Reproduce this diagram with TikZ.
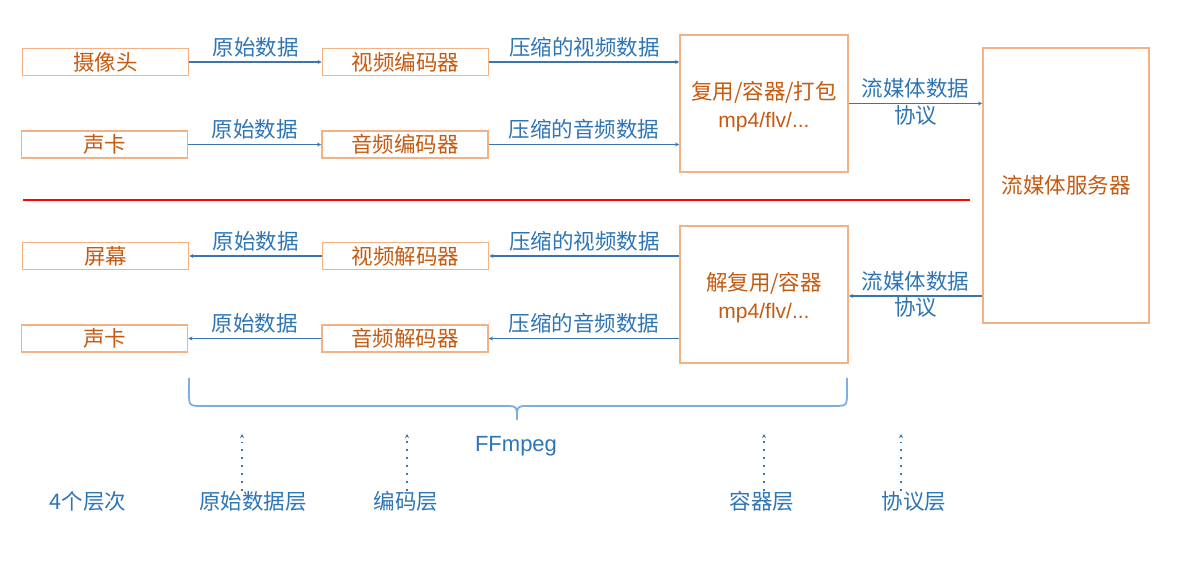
\documentclass[tikz,border=0pt]{standalone}
\usepackage{fontspec}
\setmainfont{Liberation Sans}
\newfontfamily\cjk{Noto Sans CJK SC}
\usetikzlibrary{arrows.meta}
\definecolor{boxline}{HTML}{F4B183}
\definecolor{boxtext}{HTML}{C55A11}
\definecolor{arr}{HTML}{3A75AE}
\definecolor{labtext}{HTML}{2E75B6}
\definecolor{bracecol}{HTML}{7EADE0}
\tikzset{
  box/.style={draw=boxline, line width=1.8pt, inner sep=0pt, text=boxtext, font=\cjk\fontsize{21.5}{26}\selectfont, align=center},
  smallbox/.style={box, minimum width=166pt, minimum height=27pt},
  boxlabel/.style={text=boxtext, font=\cjk\fontsize{21.5}{26}\selectfont, align=center, inner sep=0pt},
  flow/.style={draw=arr, line width=1.6pt, -{Stealth[length=4pt,width=4pt]}},
  lab/.style={text=labtext, font=\cjk\fontsize{21.5}{26}\selectfont, inner sep=4pt},
  dotarrow/.style={draw=arr, line width=1.9pt, dash pattern=on 1.9pt off 6pt, -{Stealth[length=4pt,width=4pt]}},
  layer/.style={text=labtext, font=\cjk\fontsize{21.5}{26}\selectfont, inner sep=0pt},
}
\begin{document}
\begin{tikzpicture}[x=1pt,y=-1pt]
\useasboundingbox (0,0) rectangle (1184,569);
% top half
\node[smallbox] (cam) at (105.5,62) {摄像头};
\node[smallbox] (venc) at (405.5,62) {视频编码器};
\node[smallbox] (snd1) at (104.5,144.5) {声卡};
\node[smallbox] (aenc) at (405,144.5) {音频编码器};
\node[box, minimum width=168pt, minimum height=137pt] (mux) at (764,103.5) {};
\node[boxlabel] (muxtext) at (764,106.5) {复用/容器/打包\\[1.5pt]{\fontspec{Liberation Sans}\fontsize{21}{26}\selectfont mp4/flv/...}};
\node[box, minimum width=166pt, minimum height=275pt] (srv) at (1066,185.5) {流媒体服务器};
% bottom half
\node[smallbox] (scr) at (105.5,256) {屏幕};
\node[smallbox] (vdec) at (405.5,256) {视频解码器};
\node[smallbox] (snd2) at (104.5,338.5) {声卡};
\node[smallbox] (adec) at (405,338.5) {音频解码器};
\node[box, minimum width=168pt, minimum height=137pt] (demux) at (764,294.5) {};
\node[boxlabel] (demuxtext) at (764,297.5) {解复用/容器\\[1.5pt]{\fontspec{Liberation Sans}\fontsize{21}{26}\selectfont mp4/flv/...}};
% separator
\draw[red, line width=2.4pt] (23,200) -- (970,200);
% top arrows
\draw[flow] (cam) -- node[lab, above] {原始数据} (venc);
\draw[flow] (snd1) -- node[lab, above] {原始数据} (aenc);
\draw[flow] (venc.east) -- node[lab, above] {压缩的视频数据} (venc.east -| mux.west);
\draw[flow] (aenc.east) -- node[lab, above] {压缩的音频数据} (aenc.east -| mux.west);
\draw[flow] (mux.east) -- node[lab, above] {流媒体数据} node[lab, below, inner sep=1pt] {协议} (mux.east -| srv.west);
% bottom arrows
\draw[flow] (vdec) -- node[lab, above] {原始数据} (scr);
\draw[flow] (adec) -- node[lab, above] {原始数据} (snd2);
\draw[flow] (vdec.east -| demux.west) -- node[lab, above] {压缩的视频数据} (vdec.east);
\draw[flow] (adec.east -| demux.west) -- node[lab, above] {压缩的音频数据} (adec.east);
\draw[flow] (srv.west |- 0,296) -- node[lab, above] {流媒体数据} node[lab, below, inner sep=1pt] {协议} (demux.east |- 0,296);
% brace
\draw[bracecol, line width=1.8pt] (189,378) -- (189,392) .. controls (189,406) .. (203,406) -- (505,406) .. controls (517,406) .. (517,420) .. controls (517,406) .. (529,406) -- (833,406) .. controls (847,406) .. (847,392) -- (847,378);
\node[text=labtext, font=\fontsize{22}{26}\selectfont, inner sep=0pt] (ff) at (516,446) {FFmpeg};
% layers
\node[layer] (l0) at (88,501) {4个层次};
\node[layer] (l1) at (253,501) {原始数据层};
\node[layer] (l2) at (406,501) {编码层};
\node[layer] (l3) at (762,501) {容器层};
\node[layer] (l4) at (914,501) {协议层};
\coordinate (t1) at (242,434);
\coordinate (t2) at (407,434);
\coordinate (t3) at (764,434);
\coordinate (t4) at (901,434);
\draw[dotarrow] (l1.north -| t1) -- (t1);
\draw[dotarrow] (l2.north -| t2) -- (t2);
\draw[dotarrow] (l3.north -| t3) -- (t3);
\draw[dotarrow] (l4.north -| t4) -- (t4);
\end{tikzpicture}
\end{document}
